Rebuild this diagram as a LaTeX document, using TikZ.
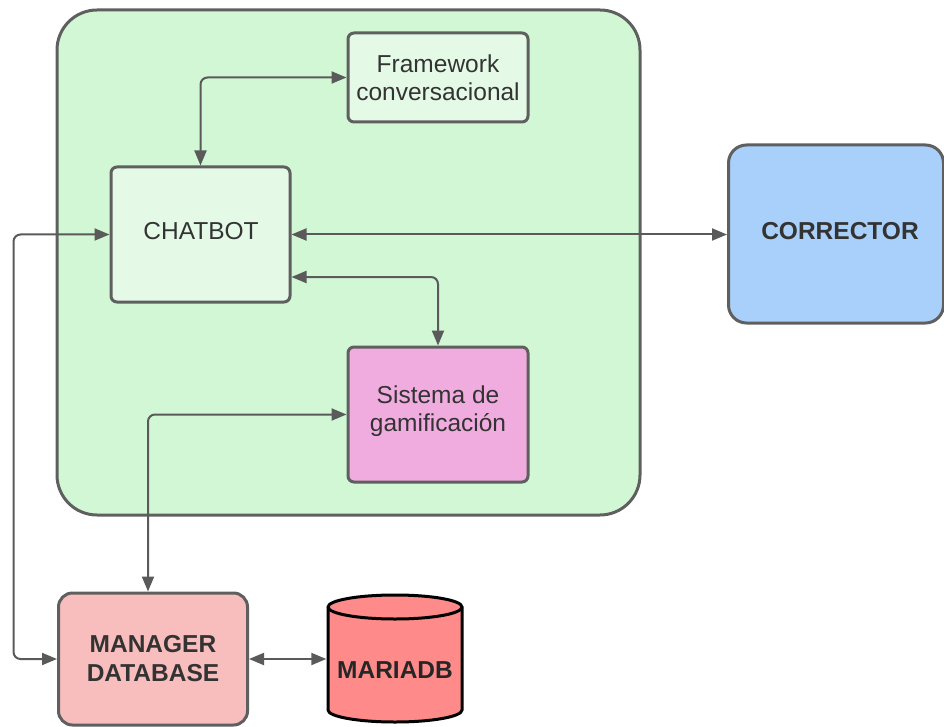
\documentclass[tikz,border=0pt]{standalone}
\usepackage{fontspec}
\setmainfont{Liberation Sans}
\usetikzlibrary{arrows.meta}
\definecolor{edge}{HTML}{5F5F5F}
\definecolor{wire}{HTML}{5A5A5A}
\definecolor{txt}{HTML}{333333}
\definecolor{contfill}{HTML}{D1F7D5}
\definecolor{lightfill}{HTML}{E4FAE7}
\definecolor{corrfill}{HTML}{A9D0FA}
\definecolor{sisfill}{HTML}{F0ACDF}
\definecolor{mgrfill}{HTML}{F8BDBD}
\definecolor{dbfill}{HTML}{FF8A8A}
\tikzset{
  box/.style={draw=edge, line width=3pt, rounded corners=6pt, inner sep=0pt,
    align=center, text=txt, font=\fontsize{24.5}{28.5}\selectfont},
  boldbox/.style={box, font=\fontsize{24.5}{29}\selectfont\bfseries},
  conn/.style={draw=wire, line width=2pt, rounded corners=7pt,
    {Triangle[length=15pt,width=12pt]}-{Triangle[length=15pt,width=12pt]}},
}
\begin{document}
\begin{tikzpicture}[x=1pt,y=-1pt]
\useasboundingbox (0,0) rectangle (944,727);
% container
\node[box, fill=contfill, rounded corners=40pt, minimum width=583pt, minimum height=505pt] (cont) at (348.5,262.5) {};
% inner boxes
\node[box, fill=lightfill, minimum width=180pt, minimum height=89pt] (fw) at (438,77.5) {Framework\\conversacional};
\node[box, fill=lightfill, minimum width=179pt, minimum height=135pt] (chat) at (200.5,234.5) {};
\node[text=txt, font=\fontsize{24.5}{28.5}\selectfont] (chatlbl) at (201,231) {CHATBOT};
\node[box, fill=sisfill, minimum width=180pt, minimum height=135pt] (sis) at (438,414.5) {};
\node[text=txt, align=center, font=\fontsize{24.5}{28.5}\selectfont] (sislbl) at (438,411) {Sistema de\\gamificación};
\node[box, fill=corrfill, rounded corners=18pt, minimum width=215pt, minimum height=178pt] (corr) at (836,234) {};
\node[text=txt, font=\fontsize{24.5}{29}\selectfont\bfseries] (corrlbl) at (840,231) {CORRECTOR};
\node[boldbox, fill=mgrfill, rounded corners=14pt, minimum width=189pt, minimum height=132pt] (mgr) at (153,659) {MANAGER\\DATABASE};
% cylinder
\draw[draw=black, line width=3pt, fill=dbfill] (328,607) -- (328,710) arc[start angle=180, end angle=0, x radius=67, y radius=12] -- (462,607) arc[start angle=0, end angle=-180, x radius=67, y radius=12] -- cycle;
\draw[draw=black, line width=3pt] (328,607) arc[start angle=180, end angle=0, x radius=67, y radius=12];
\node[inner sep=0pt, minimum width=137pt, minimum height=128pt] (db) at (395,659) {};
\node[text=black!85, font=\fontsize{24.5}{29}\selectfont\bfseries] (dblbl) at (395,670) {MARIADB};
% connectors
\draw[conn] (chat.north) |- (fw.west);
\draw[conn] (chat.west) -- ++(-96,0) |- (mgr.west);
\draw[conn] (chat.east) -- (chat.east -| corr.west);
\draw[conn] ([yshift=-42.5pt]chat.east) -| (sis.north);
\draw[conn] (sis.west) -| ([xshift=-5pt]mgr.north);
\draw[conn] (mgr.east) -- (mgr.east -| db.west);
\end{tikzpicture}
\end{document}
